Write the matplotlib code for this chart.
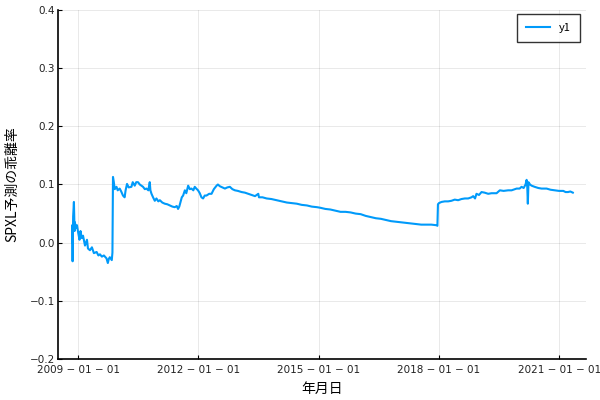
import matplotlib
matplotlib.use("Agg")
import matplotlib.pyplot as plt
import matplotlib.dates as mdates
import numpy as np
from datetime import date

# ---- data ----
dates = [
    "2008-11-05", "2008-11-06", "2008-11-10", "2008-11-15", "2008-11-22", "2008-11-28",
    "2008-12-01", "2008-12-10", "2008-12-20", "2009-01-01", "2009-01-12", "2009-01-21",
    "2009-02-01", "2009-02-13", "2009-03-03", "2009-03-21", "2009-03-30", "2009-04-17",
    "2009-05-05", "2009-05-23", "2009-06-17", "2009-07-03", "2009-07-17", "2009-08-04",
    "2009-08-22", "2009-09-15", "2009-09-27", "2009-10-06", "2009-10-15", "2009-11-02",
    "2009-11-08", "2009-11-13", "2009-11-20", "2009-11-29", "2009-12-15", "2009-12-26",
    "2010-01-13", "2010-01-27", "2010-02-12", "2010-02-27", "2010-03-08", "2010-03-21",
    "2010-04-05", "2010-04-30", "2010-05-12", "2010-05-30", "2010-06-13", "2010-06-29",
    "2010-07-15", "2010-08-14", "2010-08-30", "2010-09-14", "2010-10-01", "2010-10-14",
    "2010-10-20", "2010-10-30", "2010-11-13", "2010-11-29", "2010-12-14", "2010-12-31",
    "2011-01-14", "2011-02-05", "2011-02-28", "2011-03-23", "2011-04-15", "2011-05-08",
    "2011-05-30", "2011-06-17", "2011-06-29", "2011-07-10", "2011-07-21", "2011-08-02",
    "2011-08-14", "2011-08-30", "2011-09-12", "2011-09-29", "2011-10-14", "2011-10-29",
    "2011-11-15", "2011-11-28", "2011-12-12", "2011-12-28", "2012-01-13", "2012-01-28",
    "2012-02-12", "2012-02-27", "2012-03-14", "2012-04-07", "2012-04-29", "2012-05-20",
    "2012-06-14", "2012-06-26", "2012-07-14", "2012-08-06", "2012-08-29", "2012-09-20",
    "2012-10-13", "2012-11-05", "2012-11-28", "2012-12-25", "2013-01-28", "2013-02-27",
    "2013-03-29", "2013-04-27", "2013-05-30", "2013-06-29", "2013-07-05", "2013-08-06",
    "2013-09-13", "2013-10-27", "2013-12-14", "2014-01-27", "2014-03-16", "2014-04-29",
    "2014-06-15", "2014-07-29", "2014-09-15", "2014-10-29", "2014-12-16", "2015-01-15",
    "2015-03-02", "2015-04-17", "2015-06-02", "2015-07-18", "2015-09-02", "2015-10-18",
    "2015-12-03", "2016-01-18", "2016-03-04", "2016-04-19", "2016-06-04", "2016-07-20",
    "2016-09-04", "2016-10-20", "2016-12-05", "2017-01-20", "2017-03-07", "2017-04-22",
    "2017-06-07", "2017-07-23", "2017-09-07", "2017-10-23", "2017-12-08", "2017-12-17",
    "2017-12-22", "2017-12-31", "2018-01-23", "2018-02-22", "2018-03-25", "2018-04-24",
    "2018-05-24", "2018-06-24", "2018-07-24", "2018-08-24", "2018-09-23", "2018-10-24",
    "2018-11-08", "2018-11-25", "2018-12-08", "2018-12-31", "2019-01-23", "2019-02-20",
    "2019-03-25", "2019-04-24", "2019-06-09", "2019-07-09", "2019-08-12", "2019-09-23",
    "2019-10-24", "2019-12-09", "2020-01-05", "2020-01-23", "2020-02-11", "2020-02-28",
    "2020-03-09", "2020-03-15", "2020-03-20", "2020-03-26", "2020-04-09", "2020-04-23",
    "2020-05-21", "2020-06-23", "2020-07-23", "2020-09-07", "2020-10-13", "2020-11-21",
    "2020-12-29", "2021-02-06", "2021-02-27", "2021-03-21", "2021-04-11", "2021-05-04",
]
deviation = [
    0.000, 0.030, -0.032, 0.045, 0.070, 0.020,
    0.035, 0.025, 0.030, 0.016, 0.005, 0.020,
    0.008, 0.012, -0.005, 0.005, -0.010, -0.013,
    -0.008, -0.018, -0.016, -0.022, -0.020, -0.024,
    -0.022, -0.027, -0.035, -0.028, -0.025, -0.030,
    -0.017, 0.113, 0.105, 0.092, 0.096, 0.090,
    0.093, 0.088, 0.081, 0.078, 0.090, 0.101,
    0.095, 0.096, 0.104, 0.098, 0.104, 0.104,
    0.100, 0.096, 0.092, 0.093, 0.090, 0.104,
    0.090, 0.084, 0.078, 0.072, 0.076, 0.071,
    0.073, 0.069, 0.067, 0.066, 0.064, 0.062,
    0.061, 0.063, 0.058, 0.062, 0.070, 0.078,
    0.081, 0.090, 0.085, 0.098, 0.092, 0.093,
    0.090, 0.096, 0.093, 0.090, 0.085, 0.078,
    0.076, 0.081, 0.081, 0.084, 0.084, 0.092,
    0.098, 0.100, 0.097, 0.095, 0.093, 0.095,
    0.096, 0.092, 0.090, 0.089, 0.087, 0.086,
    0.084, 0.082, 0.080, 0.084, 0.078, 0.078,
    0.076, 0.075, 0.073, 0.071, 0.069, 0.068,
    0.067, 0.065, 0.064, 0.062, 0.061, 0.060,
    0.058, 0.057, 0.055, 0.053, 0.053, 0.052,
    0.050, 0.049, 0.046, 0.044, 0.042, 0.041,
    0.039, 0.037, 0.036, 0.035, 0.034, 0.033,
    0.032, 0.031, 0.031, 0.031, 0.030, 0.029,
    0.066, 0.068, 0.070, 0.071, 0.071, 0.072,
    0.074, 0.073, 0.075, 0.076, 0.076, 0.078,
    0.080, 0.076, 0.084, 0.082, 0.087, 0.086,
    0.084, 0.085, 0.085, 0.090, 0.089, 0.090,
    0.090, 0.093, 0.093, 0.096, 0.094, 0.100,
    0.108, 0.095, 0.067, 0.104, 0.100, 0.098,
    0.096, 0.094, 0.093, 0.093, 0.091, 0.090,
    0.089, 0.089, 0.087, 0.087, 0.088, 0.086,
]
series_label = "y1"
xtick_dates = ["2009-01-01", "2012-01-01", "2015-01-01", "2018-01-01", "2021-01-01"]
xtick_labels = ["2009 \u2212 01 \u2212 01", "2012 \u2212 01 \u2212 01", "2015 \u2212 01 \u2212 01",
                "2018 \u2212 01 \u2212 01", "2021 \u2212 01 \u2212 01"]
yticks = [-0.2, -0.1, 0.0, 0.1, 0.2, 0.3, 0.4]
ytick_labels = ["\u22120.2", "\u22120.1", "0.0", "0.1", "0.2", "0.3", "0.4"]
xlabel = "年月日"
ylabel = "SPXL予測の乖離率"

plt.rcParams['font.family'] = ['Noto Sans CJK JP', 'DejaVu Sans']

def d(s):
    return date.fromisoformat(s)

x = [d(s) for s in dates]

fig = plt.figure(figsize=(6, 4), dpi=100)
ax = fig.add_axes([58/600, 1-359/400, (586-58)/600, (359-10)/400])

ax.plot(x, deviation, color="#009AFA", linewidth=1.5, label=series_label)

ax.set_xlim(d("2008-06-30"), d("2021-09-01"))
ax.set_ylim(-0.2, 0.4)
ax.set_xticks([mdates.date2num(d(s)) for s in xtick_dates])
ax.set_xticklabels(xtick_labels, fontsize=7.5, family=['DejaVu Sans'], color="#222222")
ax.set_yticks(yticks)
ax.set_yticklabels(ytick_labels, fontsize=7.5, family=['DejaVu Sans'], color="#222222")

ax.grid(True, color="#000000", alpha=0.1, linewidth=0.6)
ax.set_axisbelow(True)
for s in ["top", "right"]:
    ax.spines[s].set_visible(False)
for s in ["left", "bottom"]:
    ax.spines[s].set_linewidth(1.2)
    ax.spines[s].set_color("black")
ax.tick_params(axis="y", direction="in", length=3, width=0.8, pad=2)
ax.tick_params(axis="x", direction="in", length=3, width=0.8, pad=4)

ax.set_xlabel(xlabel, fontsize=10, labelpad=5)
ax.set_ylabel(ylabel, fontsize=10, labelpad=8)

leg = ax.legend(loc="upper right", fontsize=8, frameon=True, fancybox=False,
                edgecolor="black", handlelength=2.2, borderpad=0.8,
                bbox_to_anchor=(0.9985, 1.005))
leg.get_frame().set_linewidth(1.0)

fig.savefig("out.png", dpi=100)
